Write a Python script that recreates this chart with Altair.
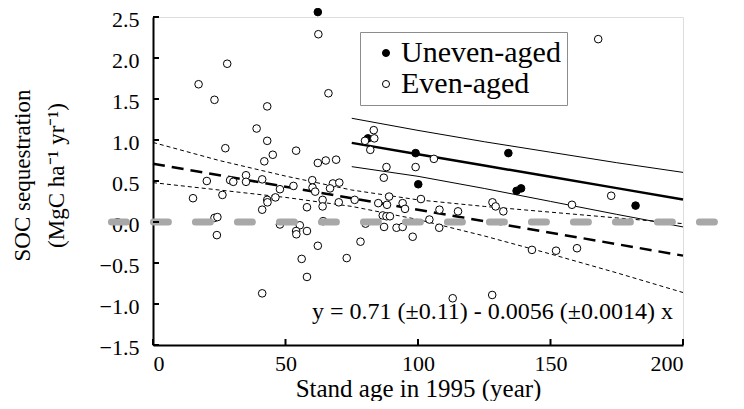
import altair as alt
import pandas as pd

# ---- data ----
even_x = [62.4, 28.0, 17.2, 23.2, 66.2, 43.1, 39.1, 43.1, 27.3, 45.2, 54.0, 42.0, 62.2, 65.2, 69.1,
          83.3, 80.0, 83.5, 82.0, 106.0, 88.1, 99.1, 87.1, 35.1, 20.3, 29.1, 30.3, 35.1, 41.2, 53.0,
          60.1, 60.2, 67.9, 70.3, 66.8, 47.9, 15.1, 26.2, 43.1, 43.2, 46.2, 61.2, 64.0, 64.0, 70.1,
          76.1, 58.1, 41.2, 85.0, 88.3, 89.1, 94.2, 95.1, 101.1, 108.1, 115.1, 86.7, 88.1, 89.4, 104.3,
          23.2, 24.3, 47.9, 55.4, 54.0, 54.1, 58.1, 64.2, 80.2, 87.2, 91.9, 94.2, 108.0, 24.1, 98.0,
          78.3, 62.2, 56.1, 73.1, 58.1, 41.2, 113.1, 128.0, 168.0, 172.9, 128.1, 129.3, 132.2, 158.1,
          143.0, 152.1, 160.0]
even_y = [2.29, 1.93, 1.68, 1.49, 1.57, 1.41, 1.14, 0.99, 0.90, 0.82, 0.87, 0.74, 0.72, 0.75, 0.76,
          1.12, 0.99, 1.02, 0.88, 0.77, 0.67, 0.67, 0.54, 0.57, 0.50, 0.51, 0.49, 0.49, 0.52, 0.44,
          0.51, 0.42, 0.47, 0.48, 0.41, 0.40, 0.29, 0.33, 0.27, 0.24, 0.30, 0.37, 0.27, 0.19, 0.24,
          0.27, 0.18, 0.15, 0.23, 0.21, 0.31, 0.23, 0.16, 0.28, 0.15, 0.13, 0.08, 0.07, 0.07, 0.03,
          0.05, 0.06, -0.03, -0.04, -0.11, -0.15, -0.11, 0.01, -0.02, -0.06, -0.07, -0.06, -0.07, -0.16, -0.18,
          -0.24, -0.29, -0.45, -0.44, -0.67, -0.87, -0.93, -0.89, 2.23, 0.32, 0.24, 0.19, 0.13, 0.21,
          -0.34, -0.35, -0.32]
uneven_x = [62.2, 81.1, 99.1, 100.1, 134.1, 137.2, 138.9, 182.1]
uneven_y = [2.56, 1.02, 0.84, 0.46, 0.84, 0.38, 0.41, 0.20]

groups = ["Uneven-aged", "Even-aged"]

even_fit_x = [0, 200]
even_fit_y = [0.71, -0.41]
even_ci_x = [0, 25, 50, 75, 100, 125, 150, 175, 200]
even_ci_hi = [0.97, 0.75, 0.56, 0.39, 0.27, 0.19, 0.12, 0.05, -0.02]
even_ci_lo = [0.48, 0.39, 0.30, 0.19, 0.03, -0.17, -0.39, -0.62, -0.86]

uneven_line_x = [75, 100, 125, 150, 175, 200]
uneven_fit_y = [0.965, 0.827, 0.689, 0.551, 0.413, 0.275]
uneven_ci_hi = [1.265, 1.117, 0.979, 0.851, 0.723, 0.605]
uneven_ci_lo = [0.675, 0.557, 0.409, 0.251, 0.093, -0.06]

zero_x = [-15.7, 235]
zero_y = [0, 0]

x_ticks = [0, 50, 100, 150, 200]
y_ticks = [-1.5, -1.0, -0.5, 0.0, 0.5, 1.0, 1.5, 2.0, 2.5]

equation = "y = 0.71 (\u00b10.11) - 0.0056 (\u00b10.0014) x"

# ---- tables ----
pts = pd.DataFrame({
    "x": uneven_x + even_x,
    "y": uneven_y + even_y,
    "g": [groups[0]] * len(uneven_x) + [groups[1]] * len(even_x),
})
even_fit = pd.DataFrame({"x": even_fit_x, "y": even_fit_y})
even_ci = pd.DataFrame({
    "x": even_ci_x + even_ci_x,
    "y": even_ci_hi + even_ci_lo,
    "k": ["hi"] * len(even_ci_x) + ["lo"] * len(even_ci_x),
})
un_fit = pd.DataFrame({"x": uneven_line_x, "y": uneven_fit_y})
un_ci = pd.DataFrame({
    "x": uneven_line_x + uneven_line_x,
    "y": uneven_ci_hi + uneven_ci_lo,
    "k": ["hi"] * len(uneven_line_x) + ["lo"] * len(uneven_line_x),
})
zero = pd.DataFrame({"x": zero_x, "y": zero_y})
xt = pd.DataFrame({"x": x_ticks})
yt = pd.DataFrame({"y": y_ticks})

FONT = "Liberation Serif"
W, H = 530, 328

X = alt.X("x:Q", scale=alt.Scale(domain=[0, 200], nice=False, zero=False),
          axis=alt.Axis(values=x_ticks, format="d", ticks=False, grid=False,
                        domainColor="black", domainWidth=2,
                        labelFont=FONT, labelFontSize=22, labelColor="black", labelPadding=8,
                        title="Stand age in 1995 (year)", titleFont=FONT, titleFontSize=25,
                        titleFontWeight="normal", titleColor="black",
                        titleBaseline="alphabetic", titleY=51))
Y = alt.Y("y:Q", scale=alt.Scale(domain=[-1.5, 2.5], nice=False, zero=False),
          axis=alt.Axis(values=y_ticks, format=".1f", ticks=False, grid=False,
                        domainColor="black", domainWidth=2,
                        labelFont=FONT, labelFontSize=22, labelColor="black", labelPadding=14,
                        labelOffset=2,
                        title=["SOC sequestration", "(MgC ha\u207b\u00b9 yr\u207b\u00b9)"],
                        titleFont=FONT, titleFontSize=23, titleFontWeight="normal",
                        titleColor="black", titleLineHeight=34, titlePadding=31, titleY=158))

ci_even = alt.Chart(even_ci).mark_line(color="black", strokeWidth=1, strokeDash=[4, 3]).encode(
    x=X, y=Y, detail="k:N")
fit_even = alt.Chart(even_fit).mark_line(color="black", strokeWidth=2.5, strokeDash=[12, 7]).encode(
    x=X, y=Y)
ci_un = alt.Chart(un_ci).mark_line(color="black", strokeWidth=1).encode(x=X, y=Y, detail="k:N")
fit_un = alt.Chart(un_fit).mark_line(color="black", strokeWidth=2.5).encode(x=X, y=Y)

points = alt.Chart(pts).mark_point(shape="circle", size=58, stroke="black", strokeWidth=1,
                                   opacity=1, fillOpacity=1).encode(
    x=X, y=Y,
    fill=alt.Fill("g:N", scale=alt.Scale(domain=groups, range=["black", "white"]),
                  legend=alt.Legend(title=None, orient="none", legendX=207, legendY=15,
                                    labelFont=FONT, labelFontSize=30, labelColor="black",
                                    symbolType="circle", symbolSize=50,
                                    symbolStrokeColor="black", symbolStrokeWidth=1,
                                    symbolOffset=5, labelOffset=0, rowPadding=1, padding=6,
                                    strokeColor="#8c8c8c", fillColor="white")),
)

zero_line = alt.Chart(zero).mark_line(color="#a8a8a8", strokeWidth=7, strokeDash=[15, 27],
                                      strokeCap="round", clip=False).encode(x=X, y=Y)

tick_x = alt.Chart(xt).mark_rule(color="black", strokeWidth=2).encode(
    x=X, y=alt.value(H), y2=alt.value(H - 6))
tick_y = alt.Chart(yt).mark_rule(color="black", strokeWidth=2).encode(
    y=Y, x=alt.value(0), x2=alt.value(6))

eq = alt.Chart(pd.DataFrame({"t": [equation]})).mark_text(
    align="right", baseline="alphabetic", font=FONT, fontSize=24, color="black").encode(
    x=alt.datum(196.2), y=alt.datum(-1.177), text="t:N")

chart = alt.layer(ci_even, fit_even, ci_un, fit_un, points, zero_line, tick_x, tick_y, eq).properties(
    width=W, height=H,
    padding={"left": 145, "top": 9, "right": 53, "bottom": 56},
    autosize=alt.AutoSizeParams(type="none"),
).configure_view(stroke=None).configure(background="white", font=FONT).configure_axis(
    labelFont=FONT, titleFont=FONT).configure_legend(labelFont=FONT)

chart.save("out.html", embed_options={"renderer": "svg", "actions": False})
